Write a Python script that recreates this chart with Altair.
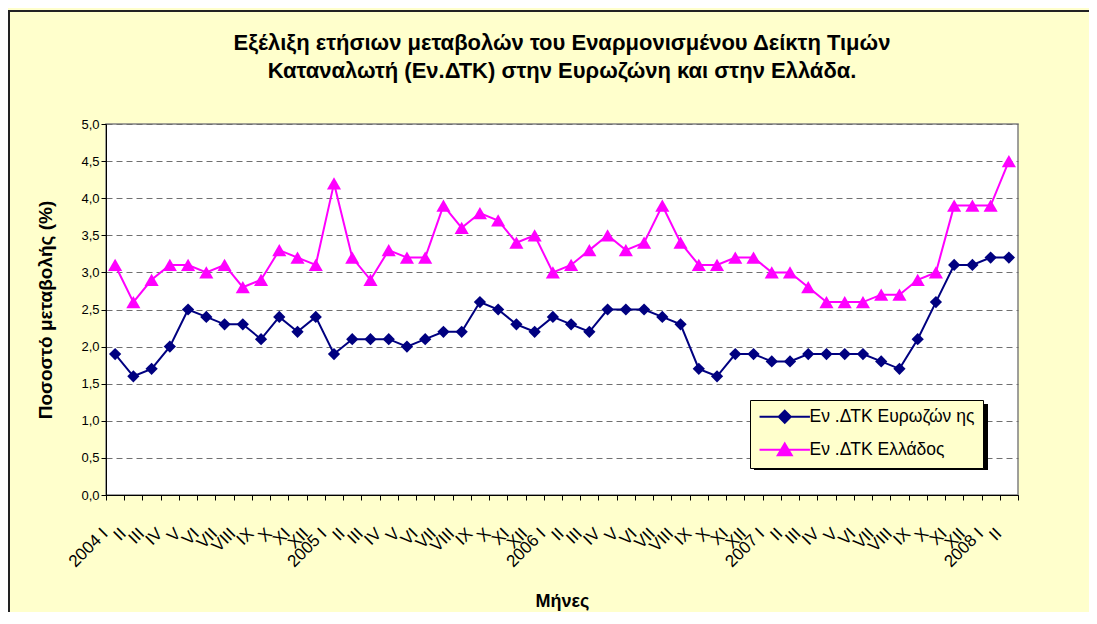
import altair as alt
import pandas as pd

FONT = "Liberation Sans"

tick_labels = [
    "2004 I", "II", "III", "IV", "V", "VI", "VII", "VIII", "IX", "X", "XI", "XII",
    "2005 I", "II", "III", "IV", "V", "VI", "VII", "VIII", "IX", "X", "XI", "XII",
    "2006 I", "II", "III", "IV", "V", "VI", "VII", "VIII", "IX", "X", "XI", "XII",
    "2007 I", "II", "III", "IV", "V", "VI", "VII", "VIII", "IX", "X", "XI", "XII",
    "2008 I", "II",
]

euro = [
    1.9, 1.6, 1.7, 2.0, 2.5, 2.4, 2.3, 2.3, 2.1, 2.4, 2.2, 2.4,
    1.9, 2.1, 2.1, 2.1, 2.0, 2.1, 2.2, 2.2, 2.6, 2.5, 2.3, 2.2,
    2.4, 2.3, 2.2, 2.5, 2.5, 2.5, 2.4, 2.3, 1.7, 1.6, 1.9, 1.9,
    1.8, 1.8, 1.9, 1.9, 1.9, 1.9, 1.8, 1.7, 2.1, 2.6, 3.1, 3.1,
    3.2, 3.2,
]

greece = [
    3.1, 2.6, 2.9, 3.1, 3.1, 3.0, 3.1, 2.8, 2.9, 3.3, 3.2, 3.1,
    4.2, 3.2, 2.9, 3.3, 3.2, 3.2, 3.9, 3.6, 3.8, 3.7, 3.4, 3.5,
    3.0, 3.1, 3.3, 3.5, 3.3, 3.4, 3.9, 3.4, 3.1, 3.1, 3.2, 3.2,
    3.0, 3.0, 2.8, 2.6, 2.6, 2.6, 2.7, 2.7, 2.9, 3.0, 3.9, 3.9,
    3.9, 4.5,
]

series_names = ["Εν .ΔΤΚ Ευρωζών ης", "Εν .ΔΤΚ Ελλάδος"]
series_colors = ["#000080", "#FF00FF"]

rows = []
for i, v in enumerate(euro):
    rows.append({"i": i, "value": v, "series": series_names[0]})
for i, v in enumerate(greece):
    rows.append({"i": i, "value": v, "series": series_names[1]})
df = pd.DataFrame(rows)

W, H = 912, 371

label_array = "[" + ",".join("'" + t + "'" for t in tick_labels) + "]"

x_enc = alt.X(
    "i:O",
    scale=alt.Scale(type="band", paddingInner=0, paddingOuter=0),
    axis=alt.Axis(
        title="Μήνες",
        labelExpr=label_array + "[datum.value]",
        labelAngle=-45,
        labelFont=FONT,
        labelFontSize=17,
        labelColor="black",
        labelOverlap=False,
        labelPadding=25,
        labelOffset=-16,
        tickBand="extent",
        tickColor="black",
        tickSize=5,
        domainColor="black",
        grid=False,
        titleFont=FONT,
        titleFontSize=18,
        titleFontWeight="bold",
        titleColor="black",
        titleY=106,
        titleBaseline="middle",
    ),
)

y_enc = alt.Y(
    "value:Q",
    scale=alt.Scale(domain=[0, 5], nice=False),
    axis=alt.Axis(
        title="Ποσοστό μεταβολής (%)",
        values=[0, 0.5, 1, 1.5, 2, 2.5, 3, 3.5, 4, 4.5, 5],
        labelExpr="replace(format(datum.value, '.1f'), '.', ',')",
        labelFont=FONT,
        labelFontSize=13,
        labelColor="black",
        tickColor="black",
        tickSize=5,
        domainColor="black",
        grid=True,
        gridDash=[6, 4],
        gridColor="#707070",
        gridWidth=1,
        titleFont=FONT,
        titleFontSize=19,
        titleFontWeight="bold",
        titleColor="black",
        titleX=-61,
        titleBaseline="middle",
    ),
)

color_scale = alt.Scale(domain=series_names, range=series_colors)

lines = alt.Chart(df).mark_line(strokeWidth=2).encode(
    x=x_enc, y=y_enc,
    color=alt.Color("series:N", scale=color_scale, legend=None),
)

pts_euro = alt.Chart(df).transform_filter(
    alt.datum.series == series_names[0]
).mark_point(shape="diamond", filled=True, size=150, opacity=1).encode(
    x=x_enc, y=y_enc,
    color=alt.Color("series:N", scale=color_scale, legend=None),
)

pts_gr = alt.Chart(df).transform_filter(
    alt.datum.series == series_names[1]
).mark_point(shape="triangle-up", filled=True, size=200, opacity=1).encode(
    x=x_enc, y=y_enc,
    color=alt.Color("series:N", scale=color_scale, legend=None),
)

legend_paths = [
    "M-3.6,0L3.6,0M0,-0.86L0.86,0L0,0.86L-0.86,0Z",
    "M-3.6,0L3.6,0M0,-0.9L1,0.8L-1,0.8Z",
]

leg = alt.Legend(
    title=None,
    orient="none",
    legendX=644,
    legendY=276,
    fillColor="#FFFFCC",
    strokeColor="black",
    padding=8,
    labelFont=FONT,
    labelFontSize=17.5,
    labelColor="black",
    labelLimit=400,
    symbolSize=196,
    symbolStrokeWidth=2,
    symbolOffset=18,
    labelOffset=16,
    rowPadding=12,
)

legend_layer = alt.Chart(df).transform_filter("false").mark_point(
    filled=True, strokeWidth=2, opacity=1
).encode(
    x=x_enc, y=y_enc,
    color=alt.Color("series:N", scale=color_scale, legend=leg),
    stroke=alt.Stroke("series:N", scale=alt.Scale(domain=series_names, range=series_colors), legend=leg),
    shape=alt.Shape("series:N", scale=alt.Scale(domain=series_names, range=legend_paths), legend=leg),
)

shadow = alt.Chart(pd.DataFrame({"a": [0]})).mark_rect(color="black").encode(
    x=alt.value(648), x2=alt.value(882), y=alt.value(280), y2=alt.value(346)
)

frame = alt.Chart(pd.DataFrame({"a": [0]})).mark_rect(
    filled=False, stroke="#222222", strokeWidth=2
).encode(
    x=alt.value(-97), x2=alt.value(W + 120), y=alt.value(-113), y2=alt.value(H + 160)
)

chart = alt.layer(frame, shadow, lines, pts_euro, pts_gr, legend_layer).resolve_scale(
    color="independent", stroke="independent", shape="independent"
).properties(
    width=W,
    height=H,
    title=alt.Title(
        [
            "Εξέλιξη ετήσιων μεταβολών του Εναρμονισμένου Δείκτη Τιμών",
            "Καταναλωτή (Εν.ΔΤΚ) στην Ευρωζώνη  και στην Ελλάδα.",
        ],
        font=FONT,
        fontSize=22,
        fontWeight="bold",
        color="black",
        lineHeight=28,
        anchor="middle",
        offset=-73,
    ),
    autosize=alt.AutoSizeParams(type="none"),
    padding={"left": 98, "top": 116, "right": 71, "bottom": 117},
    background="#FFFFCC",
).configure_view(
    stroke="#808080", strokeWidth=1.5, fill="white"
)

chart.save("out.html", embed_options={"renderer": "svg", "actions": False})
